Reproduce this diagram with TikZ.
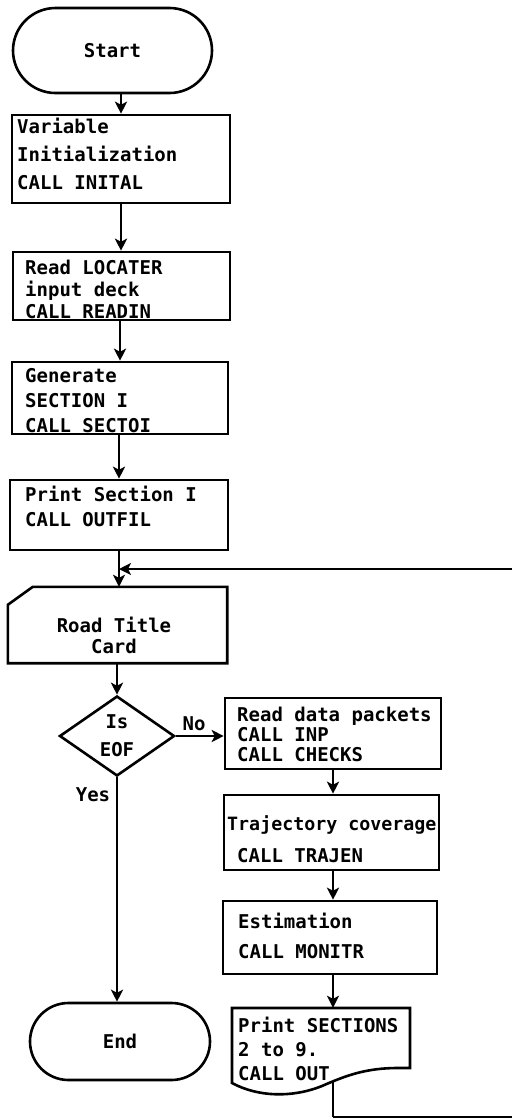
\documentclass[tikz,border=0pt]{standalone}
\usepackage{fontspec}
\newfontfamily\lettering{DejaVu Sans Mono}
\usetikzlibrary{shapes.geometric,shapes.misc,arrows.meta,calc}
\begin{document}
\begin{tikzpicture}[x=1pt,y=-1pt,
  line/.style={line width=2.4pt},
  arr/.style={line width=2.4pt,-{Stealth[length=12pt,width=12pt,inset=3pt]}},
  box/.style={draw,line width=2.6pt,rectangle,inner sep=0pt},
  term/.style={draw,line width=2.6pt,rounded rectangle,inner sep=0pt,
    font=\lettering\bfseries\fontsize{19}{24}\selectfont},
  txt/.style={inner sep=0pt,align=left,font=\lettering\bfseries\fontsize{19}{#1}\selectfont},
  txt/.default=24,
  lab/.style={inner sep=0pt,font=\lettering\bfseries\fontsize{19}{24}\selectfont}]
\useasboundingbox (0,0) rectangle (512,1120);

% terminals
\node[term, minimum width=199pt, minimum height=85pt] (start) at (112.5,50.5) {Start};
\node[term, minimum width=180pt, minimum height=77pt] (end) at (120,1041.5) {End};

% left column boxes
\node[box, minimum width=218pt, minimum height=88pt] (box1) at (121,159) {};
\node[txt=28, anchor=north west] (t1) at (17,118) {Variable\\Initialization\\CALL INITAL};

\node[box, minimum width=217pt, minimum height=68pt] (box2) at (121.5,286) {};
\node[txt=22, anchor=north west] (t2) at (25,260) {Read LOCATER\\input deck\\CALL READIN};

\node[box, minimum width=216pt, minimum height=72pt] (box3) at (120,398) {};
\node[txt=25, anchor=north west] (t3) at (25,368) {Generate\\SECTION I\\CALL SECTOI};

\node[box, minimum width=218pt, minimum height=70pt] (box4) at (119,515) {};
\node[txt=25, anchor=north west] (t4) at (25,486) {Print Section I\\CALL OUTFIL};

% card
\node[inner sep=0pt, minimum width=219pt, minimum height=76pt] (card) at (117.5,625) {};
\draw[line width=2.6pt] ($(card.north west)+(0,18)$) -- ($(card.north west)+(25,0)$)
  -- (card.north east) -- (card.south east) -- (card.south west) -- cycle;
\node[txt=21, align=center, anchor=north] (tcard) at (114,617) {Road Title\\Card};

% decision
\node[draw, diamond, line width=2.6pt, minimum width=115pt, minimum height=80pt,
  inner sep=0pt, align=center, font=\lettering\bfseries\fontsize{19}{28}\selectfont]
  (dec) at (117,736) {Is\\EOF};

% right column
\node[box, minimum width=216pt, minimum height=71pt] (box5) at (333,733.5) {};
\node[txt=20, anchor=north west] (t5) at (237,707) {Read data packets\\CALL INP\\CALL CHECKS};

\node[box, minimum width=215pt, minimum height=75pt] (box6) at (331.5,832.5) {};
\node[txt=32, anchor=north west] (t6) at (227,815)
  {{\fontsize{18.3}{32}\selectfont Trajectory coverage}\\\hspace*{10pt}CALL TRAJEN};

\node[box, minimum width=214pt, minimum height=73pt] (box7) at (330,937.5) {};
\node[txt=30, anchor=north west] (t7) at (238,913) {Estimation\\CALL MONITR};

% document
\node[inner sep=0pt, minimum width=178pt, minimum height=75pt] (doc) at (321,1045.5) {};
\draw[line width=2.6pt] (232,1008) -- (410,1008) -- (410,1068) -- (398,1068)
  .. controls (365,1068) and (345,1076) .. (322,1086)
  .. controls (292,1098) and (258,1097) .. (232,1083) -- cycle;
\node[txt=24, anchor=north west] (t8) at (238,1017) {Print SECTIONS\\2 to 9.\\CALL OUT};

% connectors
\draw[arr] (start.south -| box1.north) -- (box1.north);
\draw[arr] (box1.south) -- (box1.south |- box2.north);
\draw[arr] (box2.south -| box3.north) -- (box3.north);
\draw[arr] (box3.south -| box4.north) -- (box4.north);
\draw[arr] (box4.south) -- (box4.south |- card.north);
\coordinate (ret) at (512,569);
\draw[arr] (ret) -- (box4.south |- ret);
\draw[arr] (dec.north |- card.south) -- (dec.north);
\draw[arr] (dec.east) -- (box5.west |- dec.east);
\node[lab] (nolab) at (194,724) {No};
\draw[arr] (dec.south) -- (dec.south |- end.north);
\node[lab] (yeslab) at (93,795) {Yes};
\draw[arr] (box5.south) -- (box5.south |- box6.north);
\draw[arr] (box6.south -| box5.south) -- (box7.north -| box5.south);
\draw[arr] (box7.south -| box5.south) -- (doc.north -| box5.south);
\coordinate (docb) at (333,1082);
\coordinate (lb) at (333,1117);
\coordinate (rb) at (512,1117);
\draw[line] (docb) -- (lb);
\draw[line width=1.6pt] (lb) -- (rb);
\end{tikzpicture}
\end{document}
